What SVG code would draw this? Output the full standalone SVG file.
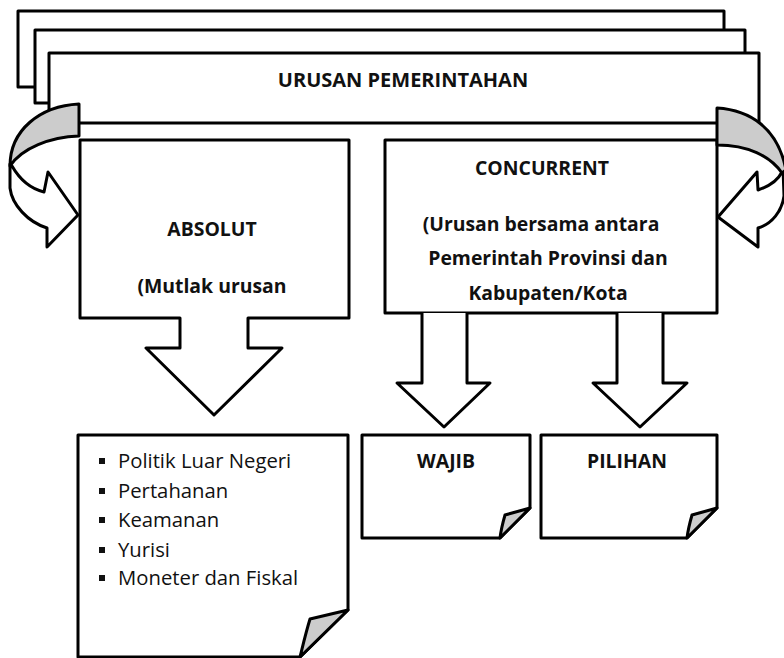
<svg xmlns="http://www.w3.org/2000/svg" width="784" height="658" viewBox="0 0 784 658">
  <style>
    .shape { fill: #ffffff; stroke: #000000; stroke-width: 3; stroke-linejoin: round; }
    .flap { fill: #cccccc; stroke: #000000; stroke-width: 3; stroke-linejoin: round; }
    .title { font-family: "Open Sans", "Liberation Sans", sans-serif; font-weight: bold; font-size: 19.4px; fill: #111111; text-anchor: middle; }
    .head { font-size: 20px; }
    .item { font-family: "Open Sans", "Liberation Sans", sans-serif; font-size: 20.3px; fill: #111111; }
    .bullet { fill: #111111; }
  </style>

  <rect width="784" height="658" fill="#ffffff"/>

  <!-- stacked header sheets -->
  <g id="urusan-pemerintahan">
    <rect class="shape" x="18" y="11" width="706" height="76"/>
    <rect class="shape" x="35" y="30" width="710" height="73"/>
    <rect class="shape" x="49" y="53" width="710" height="70"/>
    <text class="title head" x="403" y="87">URUSAN PEMERINTAHAN</text>
  </g>

  <!-- ABSOLUT box with down-arrow callout -->
  <g id="absolut">
    <path class="shape" d="M80,140 H349 V318 H248 V348 H282 L214,415 L146,348 H180 V318 H80 Z"/>
    <text class="title" x="212" y="236">ABSOLUT</text>
    <text class="title" x="212" y="293">(Mutlak urusan</text>
  </g>

  <!-- CONCURRENT box -->
  <g id="concurrent">
    <rect class="shape" x="385" y="140" width="332" height="173"/>
    <text class="title" x="542" y="175">CONCURRENT</text>
    <text class="title" x="541" y="231">(Urusan bersama antara</text>
    <text class="title" x="548" y="265">Pemerintah Provinsi dan</text>
    <text class="title" x="548" y="300">Kabupaten/Kota</text>
  </g>

  <!-- curved arrows and block arrows -->
  <g id="connectors">
    <!-- left curved arrow -->
    <path class="shape" d="M10,164 L10,188 C12,205 28,222 47,228 L47,247 L78,215 L48,172 L44,192 C32,189 20,180 12,166 Z"/>
    <path class="flap" d="M79,104 C40,106 10,130 10,166 C22,148 50,137 79,136 Z"/>
    <!-- right curved arrow -->
    <path class="shape" d="M783,168 L784,196 C782,211 772,224 758,228 L758,247 L718,217 L757,172 L758,190 C770,186 778,180 782,172 Z"/>
    <path class="flap" d="M717,108 C750,110 778,128 786,170 L782,173 C770,156 748,145 717,145 Z"/>
    <!-- concurrent down arrows -->
    <path class="shape" d="M422,313 V383 H397 L444,427 L490,383 H467 V313"/>
    <path class="shape" d="M617,313 V383 H593 L640,427 L687,383 H663 V313"/>
  </g>

  <!-- absolute affairs list note -->
  <g id="absolut-list">
    <path class="shape" d="M78,435 H348 V610 L300,657 H78 Z"/>
    <path class="flap" d="M348,610 L310,619 C306,632 303,645 300,657 Z"/>
    <rect class="bullet" x="99" y="458" width="6" height="6"/>
    <rect class="bullet" x="99" y="488" width="6" height="6"/>
    <rect class="bullet" x="99" y="517" width="6" height="6"/>
    <rect class="bullet" x="99" y="547" width="6" height="6"/>
    <rect class="bullet" x="99" y="575" width="6" height="6"/>
    <text class="item" x="118" y="468">Politik Luar Negeri</text>
    <text class="item" x="118" y="498">Pertahanan</text>
    <text class="item" x="118" y="527">Keamanan</text>
    <text class="item" x="118" y="557">Yurisi</text>
    <text class="item" x="118" y="585">Moneter dan Fiskal</text>
  </g>

  <!-- WAJIB note -->
  <g id="wajib">
    <path class="shape" d="M362,435 H530 V508 L500,538 H362 Z"/>
    <path class="flap" d="M530,508 L505,515 C503,522 501,530 500,538 Z"/>
    <text class="title" x="446" y="468">WAJIB</text>
  </g>

  <!-- PILIHAN note -->
  <g id="pilihan">
    <path class="shape" d="M541,435 H717 V508 L687,538 H541 Z"/>
    <path class="flap" d="M717,508 L692,515 C690,522 688,530 687,538 Z"/>
    <text class="title" x="627" y="468">PILIHAN</text>
  </g>
</svg>
